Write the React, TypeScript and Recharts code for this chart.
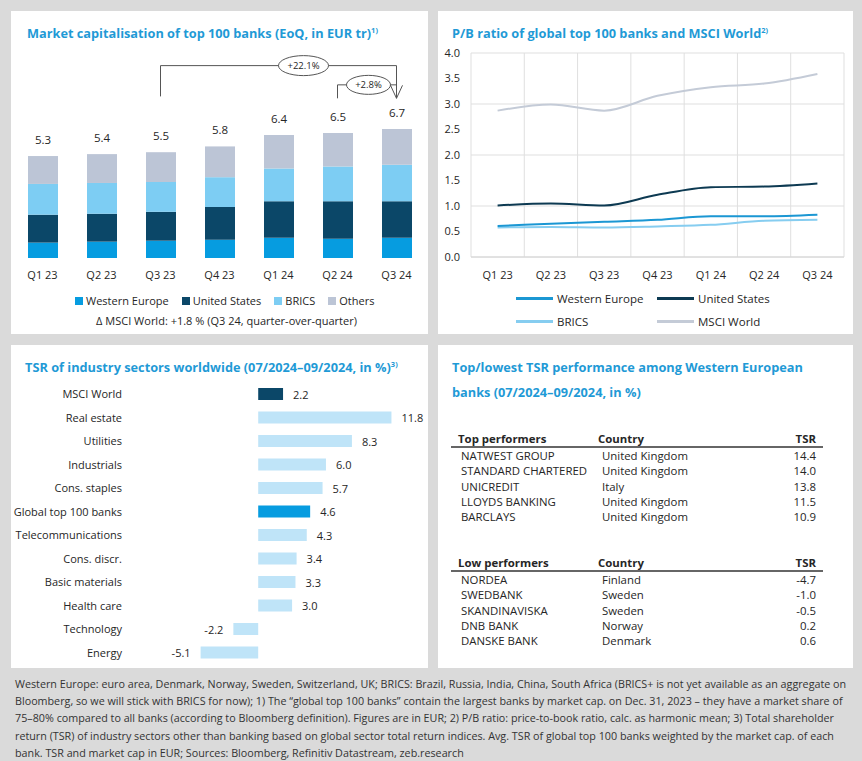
import React from "react";
import {
  BarChart,
  Bar,
  XAxis,
  YAxis,
  LabelList,
  ReferenceLine,
  ReferenceDot,
  LineChart,
  Line,
  CartesianGrid,
  Cell,
} from "recharts";

// ---- data ----
const quarters = ["Q1 23", "Q2 23", "Q3 23", "Q4 23", "Q1 24", "Q2 24", "Q3 24"];

// market cap in EUR tr (stack segments)
const capWesternEurope = [0.8, 0.85, 0.9, 0.95, 1.05, 1.0, 1.05];
const capUnitedStates = [1.45, 1.45, 1.5, 1.7, 1.9, 1.95, 1.9];
const capBrics = [1.6, 1.6, 1.55, 1.55, 1.7, 1.8, 1.9];
const capOthers = [1.45, 1.5, 1.55, 1.6, 1.75, 1.75, 1.85];
const capTotals = [5.3, 5.4, 5.5, 5.8, 6.4, 6.5, 6.7];

// P/B ratios
const pbWesternEurope = [0.61, 0.65, 0.69, 0.73, 0.8, 0.8, 0.83];
const pbUnitedStates = [1.01, 1.05, 1.01, 1.22, 1.37, 1.38, 1.44];
const pbBrics = [0.58, 0.59, 0.58, 0.6, 0.63, 0.71, 0.73];
const pbMsciWorld = [2.87, 2.99, 2.87, 3.16, 3.33, 3.4, 3.59];
const pbTicks = [0, 0.5, 1, 1.5, 2, 2.5, 3, 3.5, 4];

// TSR by sector
const sectors = [
  "MSCI World",
  "Real estate",
  "Utilities",
  "Industrials",
  "Cons. staples",
  "Global top 100 banks",
  "Telecommunications",
  "Cons. discr.",
  "Basic materials",
  "Health care",
  "Technology",
  "Energy",
];
const sectorTsr = [2.2, 11.8, 8.3, 6.0, 5.7, 4.6, 4.3, 3.4, 3.3, 3.0, -2.2, -5.1];

// top / low performers
const topNames = ["NATWEST GROUP", "STANDARD CHARTERED", "UNICREDIT", "LLOYDS BANKING", "BARCLAYS"];
const topCountries = ["United Kingdom", "United Kingdom", "Italy", "United Kingdom", "United Kingdom"];
const topTsr = [14.4, 14.0, 13.8, 11.5, 10.9];
const lowNames = ["NORDEA", "SWEDBANK", "SKANDINAVISKA", "DNB BANK", "DANSKE BANK"];
const lowCountries = ["Finland", "Sweden", "Sweden", "Norway", "Denmark"];
const lowTsr = [-4.7, -1.0, -0.5, 0.2, 0.6];

const footerLines = [
  "Western Europe: euro area, Denmark, Norway, Sweden, Switzerland, UK; BRICS: Brazil, Russia, India, China, South Africa (BRICS+ is not yet available as an aggregate on",
  "Bloomberg, so we will stick with BRICS for now); 1) The \u201cglobal top 100 banks\u201d contain the largest banks by market cap. on Dec. 31, 2023 \u2013 they have a market share of",
  "75\u201380% compared to all banks (according to Bloomberg definition). Figures are in EUR; 2) P/B ratio: price-to-book ratio, calc. as harmonic mean; 3) Total shareholder",
  "return (TSR) of industry sectors other than banking based on global sector total return indices. Avg. TSR of global top 100 banks weighted by the market cap. of each",
  "bank. TSR and market cap in EUR; Sources: Bloomberg, Refinitiv Datastream, zeb.research",
];

// ---- styles ----
const FONT = '"Open Sans", "Noto Sans", sans-serif';
const BLUE_TITLE = "#1f9ad6";
const TXT = "#262626";
const C_WE = "#069ce0";
const C_US = "#0b4768";
const C_BRICS = "#7dcdf3";
const C_OTHERS = "#bcc5d6";
const L_WE = "#1b97d3";
const L_US = "#0d3a52";
const L_BRICS = "#86cdf0";
const L_MSCI = "#c4cbd7";
const C_LIGHT = "#bfe4f8";

const capData = quarters.map((q, i) => ({
  quarter: q,
  we: capWesternEurope[i],
  us: capUnitedStates[i],
  brics: capBrics[i],
  others: capOthers[i],
  total: capTotals[i],
}));

const pbData = quarters.map((q, i) => ({
  quarter: q,
  we: pbWesternEurope[i],
  us: pbUnitedStates[i],
  brics: pbBrics[i],
  msci: pbMsciWorld[i],
}));

const tsrData = sectors.map((s, i) => ({ sector: s, tsr: sectorTsr[i] }));

function Panel({ left, top, width, height, children }: any) {
  return (
    <div style={{ position: "absolute", left, top, width, height, background: "#fff" }}>{children}</div>
  );
}

function Title({ left, top, children }: any) {
  return (
    <div
      style={{
        position: "absolute",
        left,
        top,
        color: BLUE_TITLE,
        fontWeight: 700,
        fontSize: 12.75,
        lineHeight: "25px",
        whiteSpace: "nowrap",
      }}
    >
      {children}
    </div>
  );
}

const Sup = ({ children }: any) => (
  <sup style={{ fontSize: 7.5, verticalAlign: "top", position: "relative", top: -3 }}>{children}</sup>
);

// ellipse badge; dx shifts it between two quarters
const ovalShape = (text: string, rx: number, ry: number, dx: number) => (p: any) => (
  <g>
    <ellipse cx={p.cx + dx} cy={p.cy} rx={rx} ry={ry} fill="#fff" stroke="#555" strokeWidth={1} />
    <text
      x={p.cx + dx}
      y={p.cy}
      textAnchor="middle"
      dominantBaseline="central"
      fontSize={9.5}
      fill={TXT}
      fontFamily={FONT}
    >
      {text}
    </text>
  </g>
);

const arrowShape = (p: any) => (
  <path
    d={`M${p.cx - 6},${p.cy - 13} L${p.cx},${p.cy} L${p.cx + 6},${p.cy - 13}`}
    fill="none"
    stroke="#555"
    strokeWidth={1}
  />
);

function SectorTick(p: any) {
  const { x, y, payload } = p;
  return (
    <text x={x} y={y} textAnchor="end" dominantBaseline="central" fontSize={11} fill={TXT} fontFamily={FONT}>
      {payload.value}
    </text>
  );
}

function TsrLabel(p: any) {
  const { x, y, width, height, value } = p;
  const a = Number(x);
  const b = Number(x) + Number(width);
  const lo = Math.min(a, b);
  const hi = Math.max(a, b);
  const neg = Number(value) < 0;
  return (
    <text
      x={neg ? lo - 10 : hi + 10}
      y={Number(y) + Number(height) / 2}
      textAnchor={neg ? "end" : "start"}
      dominantBaseline="central"
      fontSize={11}
      fill={TXT}
      fontFamily={FONT}
    >
      {Number(value).toFixed(1)}
    </text>
  );
}

function LegendSquare({ color, label }: any) {
  return (
    <span style={{ display: "inline-flex", alignItems: "center", marginRight: 13 }}>
      <span style={{ width: 8, height: 8, background: color, display: "inline-block", marginRight: 3 }} />
      {label}
    </span>
  );
}

function LegendLine({ left, top, color, label }: any) {
  return (
    <div style={{ position: "absolute", left, top, display: "flex", alignItems: "center", whiteSpace: "nowrap" }}>
      <span style={{ width: 37, height: 3, background: color, display: "inline-block", marginRight: 4 }} />
      {label}
    </div>
  );
}

function PerfTable({ top, head, names, countries, values }: any) {
  const rowH = 15.3;
  return (
    <div style={{ position: "absolute", left: 0, top, width: 415 }}>
      <div style={{ position: "absolute", left: 20, top: 0, fontWeight: 700, lineHeight: "16px" }}>{head}</div>
      <div style={{ position: "absolute", left: 160, top: 0, fontWeight: 700, lineHeight: "16px" }}>Country</div>
      <div style={{ position: "absolute", right: 37, top: 0, fontWeight: 700, lineHeight: "16px" }}>TSR</div>
      <div style={{ position: "absolute", left: 13, top: 15, width: 372, height: 2, background: "#666" }} />
      {names.map((n: string, i: number) => (
        <React.Fragment key={n}>
          <div style={{ position: "absolute", left: 23, top: 17 + i * rowH, lineHeight: "16px" }}>{n}</div>
          <div style={{ position: "absolute", left: 164, top: 17 + i * rowH, lineHeight: "16px" }}>{countries[i]}</div>
          <div style={{ position: "absolute", right: 37, top: 17 + i * rowH, lineHeight: "16px" }}>
            {values[i].toFixed(1)}
          </div>
        </React.Fragment>
      ))}
    </div>
  );
}

export default function App() {
  const tick = { fontSize: 11, fill: TXT, fontFamily: FONT };
  return (
    <div
      style={{
        position: "absolute",
        left: 0,
        top: 0,
        width: 862,
        height: 761,
        background: "#dadada",
        fontFamily: FONT,
        color: TXT,
        fontSize: 11,
        overflow: "hidden",
      }}
    >
      {/* Market cap */}
      <Panel left={11} top={11} width={417} height={323}>
        <Title left={16} top={10}>
          Market capitalisation of top 100 banks (EoQ, in EUR tr)<Sup>1)</Sup>
        </Title>
        <div style={{ position: "absolute", left: 0, top: 0 }}>
          <BarChart width={417} height={270} data={capData} margin={{ top: 45, right: 2, bottom: 0, left: 2 }} barSize={30}>
            <XAxis dataKey="quarter" axisLine={false} tickLine={false} tickMargin={7} height={23} interval={0} tick={tick} />
            <YAxis hide domain={[0, 10.5]} allowDataOverflow />
            <Bar dataKey="we" stackId="a" fill={C_WE} isAnimationActive={false} />
            <Bar dataKey="us" stackId="a" fill={C_US} isAnimationActive={false} />
            <Bar dataKey="brics" stackId="a" fill={C_BRICS} isAnimationActive={false} />
            <Bar dataKey="others" stackId="a" fill={C_OTHERS} isAnimationActive={false}>
              <LabelList dataKey="total" position="top" offset={12} style={{ fontSize: 11.5, fill: TXT, fontFamily: FONT }} />
            </Bar>
            <ReferenceLine segment={[{ x: "Q3 23", y: 8.4 }, { x: "Q3 23", y: 10 }]} stroke="#555" />
            <ReferenceLine segment={[{ x: "Q3 23", y: 10 }, { x: "Q3 24", y: 10 }]} stroke="#555" />
            <ReferenceLine segment={[{ x: "Q3 24", y: 10 }, { x: "Q3 24", y: 8.3 }]} stroke="#555" />
            <ReferenceLine segment={[{ x: "Q2 24", y: 8.3 }, { x: "Q2 24", y: 9 }]} stroke="#555" />
            <ReferenceLine segment={[{ x: "Q2 24", y: 9 }, { x: "Q3 24", y: 9 }]} stroke="#555" />
            <ReferenceDot x="Q1 24" y={10} r={1} shape={ovalShape("+22.1%", 25, 10, 25)} />
            <ReferenceDot x="Q2 24" y={9} r={1} shape={ovalShape("+2.8%", 22, 9.5, 31)} />
            <ReferenceDot x="Q3 24" y={8.3} r={1} shape={arrowShape} />
          </BarChart>
        </div>
        <div
          style={{
            position: "absolute",
            left: 64,
            top: 282,
            display: "flex",
            alignItems: "center",
            whiteSpace: "nowrap",
            fontSize: 11,
          }}
        >
          <LegendSquare color={C_WE} label="Western Europe" />
          <LegendSquare color={C_US} label="United States" />
          <LegendSquare color={C_BRICS} label="BRICS" />
          <LegendSquare color={C_OTHERS} label="Others" />
        </div>
        <div
          style={{
            position: "absolute",
            left: 0,
            width: 417,
            top: 302,
            textAlign: "center",
            fontSize: 11,
            paddingLeft: 14,
            boxSizing: "border-box",
          }}
        >
          Δ MSCI World: +1.8 % (Q3 24, quarter-over-quarter)
        </div>
      </Panel>

      {/* P/B ratio */}
      <Panel left={438} top={11} width={415} height={323}>
        <Title left={14} top={10}>
          P/B ratio of global top 100 banks and MSCI World<Sup>2)</Sup>
        </Title>
        <div style={{ position: "absolute", left: 0, top: 0 }}>
          <LineChart width={415} height={270} data={pbData} margin={{ top: 42, right: 9, bottom: 0, left: 0 }}>
            <CartesianGrid
              stroke="#dfdfdf"
              verticalCoordinatesGenerator={({ offset }: any) =>
                quarters
                  .map((_, i) => offset.left + (i * offset.width) / quarters.length)
                  .concat(offset.left + offset.width)
              }
            />
            <XAxis
              dataKey="quarter"
              padding={{ left: 26.6, right: 26.6 }}
              axisLine={{ stroke: "#d4d4d4" }}
              tickLine={false}
              tickMargin={8}
              height={24}
              interval={0}
              tick={tick}
            />
            <YAxis
              domain={[0, 4]}
              ticks={pbTicks}
              tickFormatter={(v: number) => v.toFixed(1)}
              width={33}
              axisLine={false}
              tickLine={false}
              tickMargin={5}
              tick={tick}
            />
            <Line type="monotone" dataKey="msci" stroke={L_MSCI} strokeWidth={2} dot={false} isAnimationActive={false} />
            <Line type="monotone" dataKey="brics" stroke={L_BRICS} strokeWidth={2} dot={false} isAnimationActive={false} />
            <Line type="monotone" dataKey="we" stroke={L_WE} strokeWidth={2} dot={false} isAnimationActive={false} />
            <Line type="monotone" dataKey="us" stroke={L_US} strokeWidth={2} dot={false} isAnimationActive={false} />
          </LineChart>
        </div>
        <div style={{ fontSize: 11.5 }}>
          <LegendLine left={78} top={280} color={L_WE} label="Western Europe" />
          <LegendLine left={219} top={280} color={L_US} label="United States" />
          <LegendLine left={78} top={303} color={L_BRICS} label="BRICS" />
          <LegendLine left={219} top={303} color={L_MSCI} label="MSCI World" />
        </div>
      </Panel>

      {/* TSR sectors */}
      <Panel left={11} top={345} width={417} height={323}>
        <Title left={14} top={10}>
          TSR of industry sectors worldwide (07/2024–09/2024, in %)<Sup>3)</Sup>
        </Title>
        <div style={{ position: "absolute", left: 0, top: 0 }}>
          <BarChart
            layout="vertical"
            width={417}
            height={323}
            data={tsrData}
            margin={{ top: 37, right: 23, bottom: 4, left: 0 }}
            barSize={12}
          >
            <XAxis type="number" domain={[-11, 13]} allowDataOverflow hide />
            <YAxis
              type="category"
              dataKey="sector"
              width={123}
              axisLine={false}
              tickLine={false}
              tickMargin={6}
              interval={0}
              tick={SectorTick}
            />
            <Bar dataKey="tsr" isAnimationActive={false}>
              {tsrData.map((d) => (
                <Cell
                  key={d.sector}
                  fill={d.sector === "MSCI World" ? C_US : d.sector === "Global top 100 banks" ? C_WE : C_LIGHT}
                />
              ))}
              <LabelList dataKey="tsr" content={TsrLabel} />
            </Bar>
          </BarChart>
        </div>
      </Panel>

      {/* Top / low performers */}
      <Panel left={438} top={345} width={415} height={323}>
        <Title left={14} top={10}>
          Top/lowest TSR performance among Western European
          <br />
          banks (07/2024–09/2024, in %)
        </Title>
        <div style={{ fontSize: 11.4 }}>
          <PerfTable top={86} head="Top performers" names={topNames} countries={topCountries} values={topTsr} />
          <PerfTable top={210} head="Low performers" names={lowNames} countries={lowCountries} values={lowTsr} />
        </div>
      </Panel>

      {/* footer */}
      <div
        style={{
          position: "absolute",
          left: 15,
          top: 676,
          fontSize: 10.75,
          lineHeight: "17.2px",
          color: "#333",
          whiteSpace: "nowrap",
        }}
      >
        {footerLines.map((l) => (
          <div key={l}>{l}</div>
        ))}
      </div>
    </div>
  );
}
